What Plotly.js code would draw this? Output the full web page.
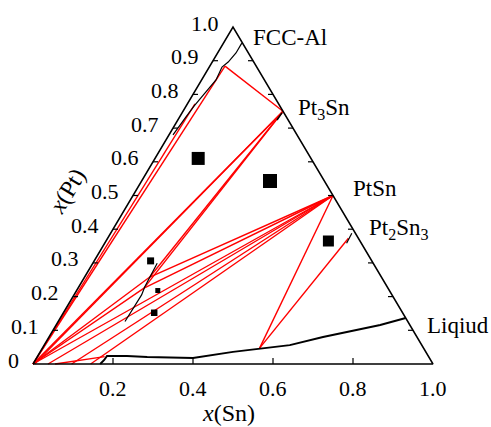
<!DOCTYPE html>
<html><head><meta charset="utf-8">
<script src="https://cdn.plot.ly/plotly-3.0.1.min.js"></script>
<style>html,body{margin:0;padding:0;background:#fff}#chart{width:491px;height:427px}</style>
</head><body><div id="chart"></div>
<script>
// All compositions are [x(Sn), x(Pt)] mole fractions.
const ptTickVals = [0, 0.1, 0.2, 0.3, 0.4, 0.5, 0.6, 0.7, 0.8, 0.9, 1.0];
const ptTickText = ['0', '0.1', '0.2', '0.3', '0.4', '0.5', '0.6', '0.7', '0.8', '0.9', '1.0'];
const snTickVals = [0.2, 0.4, 0.6, 0.8, 1.0];
const snTickText = ['0.2', '0.4', '0.6', '0.8', '1.0'];
const edgeTickVals = [0.1, 0.2, 0.3, 0.4, 0.5, 0.6, 0.7, 0.8, 0.9];

// phase compositions
const phaseNames = ['FCC', 'Pt3Sn', 'PtSn', 'Pt2Sn3', 'L2', 'Q1', 'Q2'];
const phaseSn = [0.038, 0.25, 0.5, 0.602, 0.543, 0.163, 0.165];
const phasePt = [0.884, 0.75, 0.5, 0.373, 0.047, 0.258, 0.225];

// red tie lines: start point -> end point
const tieStartSn = [0.0, 0.0, 0.0, 0.004, 0.0, 0.0, 0.0, 0.0375, 0.0965, 0.144, 0.055];
const tieStartPt = [0.0, 0.0, 0.0, 0.0, 0.0, 0.0, 0.0, 0.0, 0.0, 0.0, 0.0];
const tieEndSn = [0.038, 0.019, 0.25, 0.25, 0.163, 0.165, 0.5, 0.5, 0.5, 0.5, 0.168];
const tieEndPt = [0.884, 0.772, 0.75, 0.75, 0.258, 0.225, 0.5, 0.5, 0.5, 0.5, 0.022];
// red three-phase edges between named phases
const edgeFrom = ['FCC', 'Q1', 'Q2', 'Q1', 'Q2', 'PtSn', 'L2'];
const edgeTo = ['Pt3Sn', 'Pt3Sn', 'Pt3Sn', 'PtSn', 'PtSn', 'L2', 'Pt2Sn3'];

// black phase boundaries
const fccBndSn = [0.046, 0.046, 0.040, 0.032, 0.036, 0.029, 0.023, 0.020, 0.016, 0.013, 0.010];
const fccBndPt = [0.952, 0.923, 0.896, 0.881, 0.843, 0.813, 0.789, 0.766, 0.733, 0.700, 0.680];
const midBndSn = [0.167, 0.167, 0.168, 0.167, 0.169, 0.165, 0.163, 0.161, 0.161];
const midBndPt = [0.126, 0.150, 0.165, 0.185, 0.205, 0.229, 0.259, 0.289, 0.299];
const liqBndSn = [0.168, 0.172, 0.173, 0.223, 0.275, 0.391, 0.482, 0.545, 0.614, 0.685, 0.760, 0.810, 0.8635];
const liqBndPt = [0.000, 0.012, 0.024, 0.024, 0.021, 0.018, 0.036, 0.045, 0.056, 0.080, 0.101, 0.116, 0.1365];
const pt2sn3BndSn = [0.605, 0.603];
const pt2sn3BndPt = [0.358, 0.388];
const pt3snBndSn = [0.248, 0.250];
const pt3snBndPt = [0.724, 0.745];

// experimental alloys
const alloySn = [0.108, 0.321, 0.556, 0.141, 0.203, 0.227];
const alloyPt = [0.610, 0.543, 0.365, 0.306, 0.218, 0.152];
const alloySize = [13, 14, 11, 7, 5, 6.5];

// ---- geometry helpers (ternary -> cartesian) ----
const cx = (sn, pt) => sn + pt / 2;
const cy = (sn, pt) => pt;
function segs(aS, aP, bS, bP) {
  const x = [], y = [];
  for (let i = 0; i < aS.length; i++) {
    x.push(cx(aS[i], aP[i]), cx(bS[i], bP[i]), null);
    y.push(cy(aS[i], aP[i]), cy(bS[i], bP[i]), null);
  }
  return {x, y};
}
function poly(S, P) { return {x: S.map((s, i) => cx(s, P[i])), y: S.map((s, i) => cy(s, P[i]))}; }
const idx = n => phaseNames.indexOf(n);

const traces = [];
const red = '#ff0000';
let s = segs(tieStartSn, tieStartPt, tieEndSn, tieEndPt);
traces.push({x: s.x, y: s.y, mode: 'lines', line: {color: red, width: 1.4}});
s = segs(edgeFrom.map(n => phaseSn[idx(n)]), edgeFrom.map(n => phasePt[idx(n)]),
         edgeTo.map(n => phaseSn[idx(n)]), edgeTo.map(n => phasePt[idx(n)]));
traces.push({x: s.x, y: s.y, mode: 'lines', line: {color: red, width: 1.4}});

// black boundaries
[[fccBndSn, fccBndPt, 1.2], [midBndSn, midBndPt, 1.2], [liqBndSn, liqBndPt, 2],
 [pt2sn3BndSn, pt2sn3BndPt, 1.2], [pt3snBndSn, pt3snBndPt, 1.5]].forEach(b => {
  const p = poly(b[0], b[1]);
  traces.push({x: p.x, y: p.y, mode: 'lines', line: {color: '#000', width: b[2]}});
});

// triangle outline
const triSn = [0, 1, 0, 0];
const triPt = [0, 0, 1, 0];
let p = poly(triSn, triPt);
traces.push({x: p.x, y: p.y, mode: 'lines', line: {color: '#000', width: 1.5}});

// ticks (inward): left & right edges horizontal, bottom vertical
const tlen = 0.0125, blen = 0.018;
const tx = [], ty = [];
edgeTickVals.forEach(v => {
  tx.push(cx(0, v), cx(0, v) + tlen, null); ty.push(cy(0, v), cy(0, v), null);
  tx.push(cx(1 - v, v), cx(1 - v, v) - tlen, null); ty.push(cy(1 - v, v), cy(1 - v, v), null);
});
snTickVals.slice(0, 4).forEach(v => { tx.push(cx(v, 0), cx(v, 0), null); ty.push(0, blen, null); });
traces.push({x: tx, y: ty, mode: 'lines', line: {color: '#000', width: 1.2}});

// alloys
traces.push({x: alloySn.map((v, i) => cx(v, alloyPt[i])), y: alloyPt.map((v, i) => cy(alloySn[i], v)),
  mode: 'markers', marker: {symbol: 'square', color: '#000000', opacity: 1, size: alloySize, line: {width: 0}}});

const font = 'Liberation Serif';
const ann = [];
ptTickVals.forEach((v, i) => ann.push({x: cx(0, v), y: cy(0, v), xref: 'x', yref: 'y', text: ptTickText[i],
  showarrow: false, xanchor: 'right', yanchor: 'middle', xshift: -12, yshift: 4, font: {family: font, size: 22, color: '#000'}}));
snTickVals.forEach((v, i) => ann.push({x: cx(v, 0), y: 0, xref: 'x', yref: 'y', text: snTickText[i],
  showarrow: false, xanchor: 'center', yanchor: 'middle', yshift: -24, font: {family: font, size: 22, color: '#000'}}));
const lab = (text, sn, pt, dx, dy) => ann.push({x: cx(sn, pt), y: cy(sn, pt), xref: 'x', yref: 'y', text: text,
  showarrow: false, xanchor: 'left', yanchor: 'middle', xshift: dx, yshift: dy, font: {family: font, size: 23, color: '#000'}});
lab('FCC-Al', 0, 1, 18, -10);
lab('Pt<sub>3</sub>Sn', 0.25, 0.75, 13, 2);
lab('PtSn', 0.5, 0.5, 18, 7);
lab('Pt<sub>2</sub>Sn<sub>3</sub>', 0.6, 0.4, 14, 0);
lab('Liqiud', 0.8635, 0.1365, 19, -7);
ann.push({x: 0.5, y: 0, xref: 'x', yref: 'y', text: '<i>x</i>(Sn)', showarrow: false, xanchor: 'center', yanchor: 'middle',
  xshift: -5, yshift: -49, font: {family: font, size: 24, color: '#000'}});
ann.push({x: cx(0, 0.55), y: cy(0, 0.55), xref: 'x', yref: 'y', text: '<i>x</i>(Pt)', showarrow: false, textangle: -59,
  xanchor: 'center', yanchor: 'middle', xshift: -76, yshift: -12, font: {family: font, size: 24, color: '#000'}});

// pixel mapping: x_px = 33 + 400*x, y_px = 364 - 337*y
const layout = {
  width: 491, height: 427, showlegend: false,
  margin: {l: 13, r: 20, t: 13, b: 47},
  paper_bgcolor: '#fff', plot_bgcolor: '#fff',
  xaxis: {range: [-0.05, 1.095], visible: false, fixedrange: true},
  yaxis: {range: [-16 / 337, 351 / 337], visible: false, fixedrange: true},
  annotations: ann
};
Plotly.newPlot('chart', traces, layout, {staticPlot: true});
</script></body></html>
